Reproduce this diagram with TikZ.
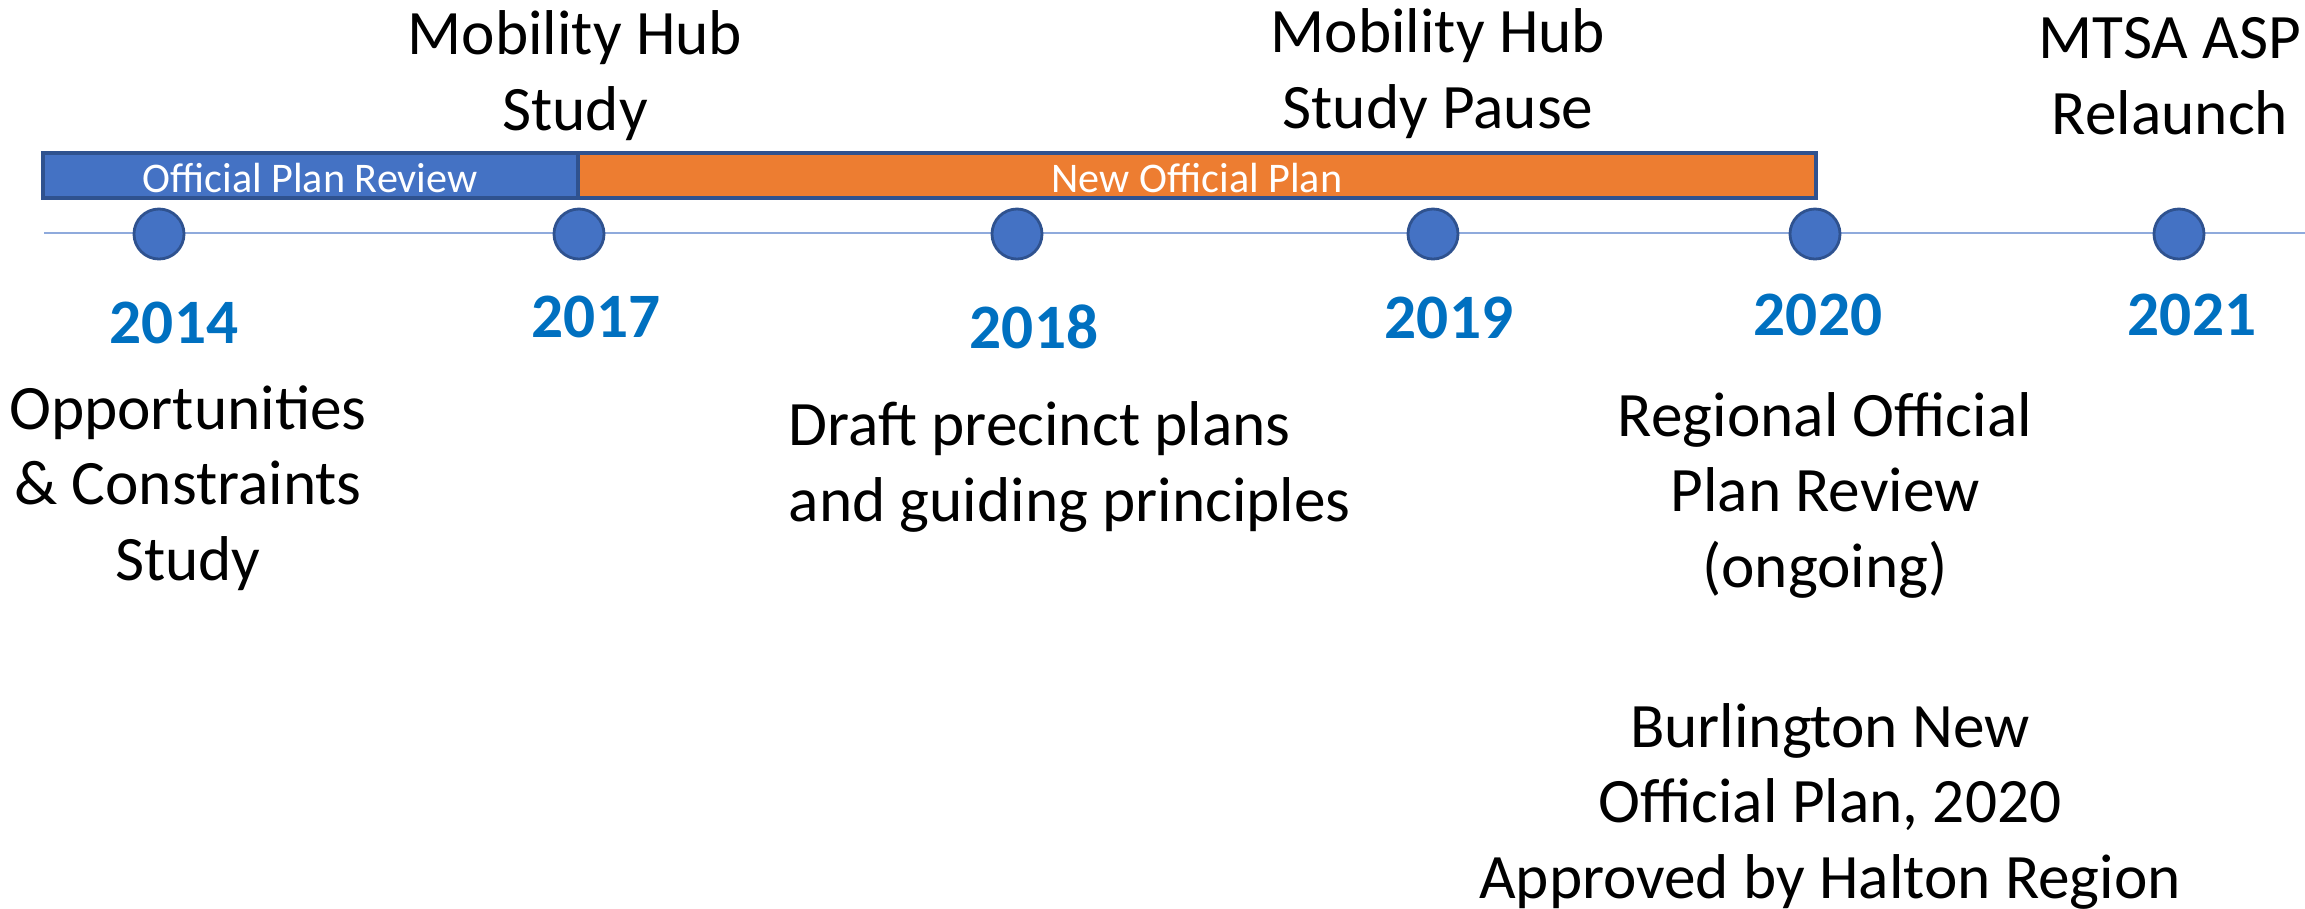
\documentclass[tikz,border=0pt]{standalone}
\usepackage{fontspec}
\setmainfont{Carlito}
\usepackage{tikz}
\usetikzlibrary{calc}
\definecolor{hubblue}{HTML}{4472C4}
\definecolor{hubedge}{HTML}{2F528F}
\definecolor{planorange}{HTML}{ED7D31}
\definecolor{yearblue}{HTML}{0070C0}
\definecolor{axisblue}{HTML}{8FAADC}
\tikzset{
	dot/.style={circle, fill=hubblue, draw=hubedge, line width=0.8pt, minimum size=0.5cm, inner sep=0pt},
	year/.style={anchor=base, text=yearblue, font=\fontsize{18}{21.34}\selectfont\bfseries},
	event/.style={anchor=base, align=center, inner sep=0pt, font=\fontsize{18}{21.34}\selectfont},
	barlabel/.style={anchor=base, text=white, font=\fontsize{12}{14}\selectfont},
}

\begin{document}
\begin{tikzpicture}[x=0.01cm, y=-0.01cm]
		%%%%% START %%%%%
		\useasboundingbox (0, 0) rectangle (2305, 908);
		
		\draw[fill=hubblue, draw=hubedge, line width=1pt] (43, 153) rectangle (578, 198);
		\draw[fill=planorange, draw=hubedge, line width=1pt] (578, 153) rectangle (1816, 198);
		\node[barlabel] (opr) at (310, 192) {Official Plan Review};
		\node[barlabel] (nop) at (1197, 192) {New Official Plan};
		
		\coordinate (axisstart) at (44, 233);
		\coordinate (axisend) at (2305, 233);
		\draw[axisblue, line width=0.7pt] (axisstart) -- (axisend);
		
		\foreach \yr/\x in {2014/159, 2017/579, 2018/1017, 2019/1433, 2020/1815, 2021/2179}
			\node[dot] (d\yr) at (\x, 234) {};
		
		\node[year] (y2014) at (174, 343) {2014};
		\node[year] (y2017) at (596, 337) {2017};
		\node[year] (y2018) at (1034, 348) {2018};
		\node[year] (y2019) at (1449, 338) {2019};
		\node[year] (y2020) at (1818, 335) {2020};
		\node[year] (y2021) at (2192, 335) {2021};
		
		% anchor=base sits on the last line
		\node[event] (hub17) at (575, 130) {Mobility Hub\\Study};
		\node[event] (hub19) at (1438, 128) {Mobility Hub\\Study Pause};
		\node[event] (mtsa) at (2170, 134) {MTSA ASP\\Relaunch};
		
		\node[event] (occ) at (188, 580) {Opportunities\\\& Constraints\\Study};
		\node[event, align=left, anchor=base west] (draft) at (788, 521) {Draft precinct plans\\and guiding principles};
		\node[event] (ropr) at (1825, 587) {Regional Official\\Plan Review\\(ongoing)};
		\node[event] (bnop) at (1830, 898) {Burlington New\\Official Plan, 2020\\Approved by Halton Region};
		%%%%% END %%%%%
\end{tikzpicture}
\end{document}
